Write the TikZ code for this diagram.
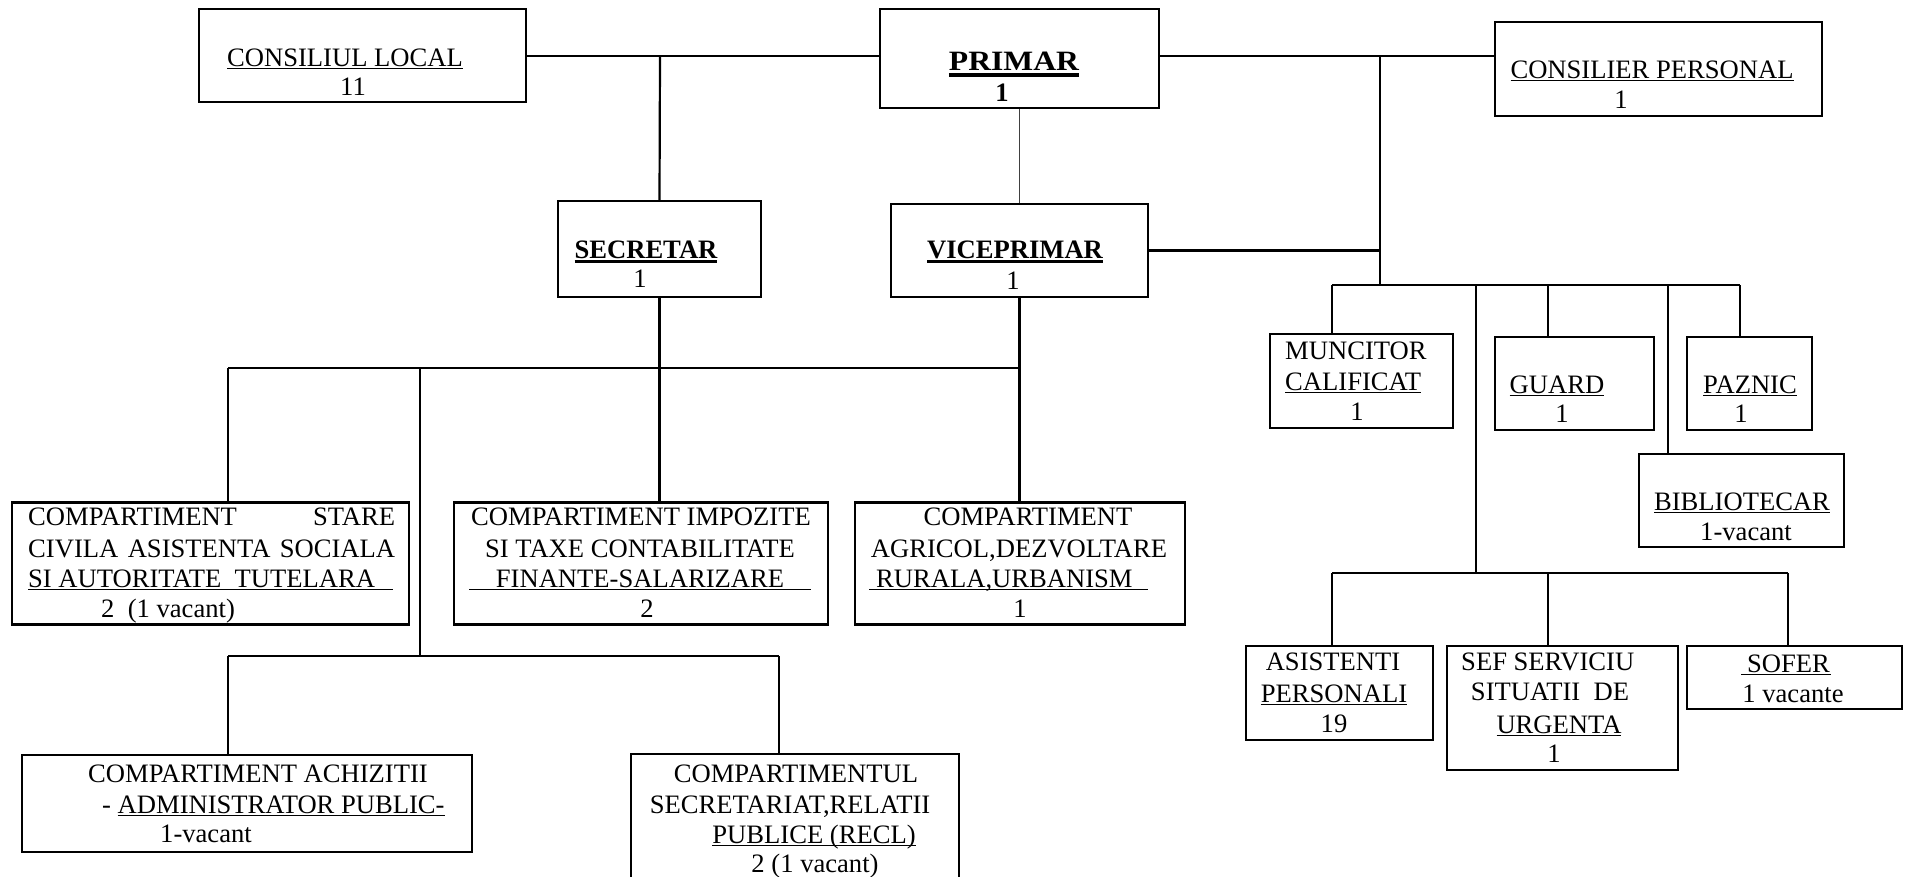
\documentclass[tikz,border=0pt]{standalone}
\usepackage{graphicx}
\usepackage{fontspec}
\setmainfont{Liberation Serif}
\newsavebox\ulbx
\newcommand\myul[1]{\sbox\ulbx{#1}\rlap{\rule[-3.2pt]{\wd\ulbx}{1.7pt}}\usebox\ulbx}
\newcommand\myulb[1]{\sbox\ulbx{#1}\rlap{\rule[-5pt]{\wd\ulbx}{2.8pt}}\usebox\ulbx}
\newcommand\myulB[1]{\sbox\ulbx{#1}\rlap{\rule[-7pt]{\wd\ulbx}{3.6pt}}\usebox\ulbx}
\newcommand\myulw[2]{\rlap{\rule[-3.2pt]{#1}{1.7pt}}\makebox[#1]{#2}}
\newcommand\myulwl[2]{\rlap{\rule[-3.2pt]{#1}{1.7pt}}\makebox[#1][l]{#2}}
\newcommand\fs{\fontsize{26.6}{31}\selectfont}
\begin{document}
\begin{tikzpicture}[x=1pt,y=-1pt,
  box/.style={draw, line width=2.5pt, inner sep=0pt},
  conn/.style={line width=2.2pt},
  thinconn/.style={line width=1.3pt, black!75},
  tx/.style={inner sep=0pt, anchor=base, font=\fs},
  txl/.style={tx, anchor=base west},
  txb/.style={tx, font=\fs\bfseries}]
\useasboundingbox (0,0) rectangle (1909,876);
\clip (0,0) rectangle (1909,876);

% ---------- boxes ----------
\node[box, minimum width=327pt, minimum height=93pt]  (CL) at (362.5,55.5) {};
\node[box, minimum width=279pt, minimum height=99pt]  (PR) at (1019.5,58.5) {};
\node[box, minimum width=327pt, minimum height=94pt]  (CP) at (1658.5,69) {};
\node[box, minimum width=203pt, minimum height=96pt]  (SE) at (659.5,249) {};
\node[box, minimum width=257pt, minimum height=93pt]  (VP) at (1019.5,250.5) {};
\node[box, minimum width=183pt, minimum height=94pt]  (MU) at (1361.5,381) {};
\node[box, minimum width=159pt, minimum height=93pt]  (GU) at (1574.5,383.5) {};
\node[box, minimum width=125pt, minimum height=93pt]  (PA) at (1749.5,383.5) {};
\node[box, minimum width=205pt, minimum height=93pt]  (BI) at (1741.5,500.5) {};
\node[box, minimum width=187pt, minimum height=94pt]  (AS) at (1339.5,693) {};
\node[box, minimum width=231pt, minimum height=124pt] (SF) at (1562.5,708) {};
\node[box, minimum width=215pt, minimum height=63pt]  (SO) at (1794.5,677.5) {};
\node[box, minimum width=397pt, minimum height=122pt] (B1) at (210.5,563.5) {};
\node[box, minimum width=374pt, minimum height=122pt] (B2) at (641,563.5) {};
\node[box, minimum width=330pt, minimum height=122pt] (B3) at (1020,563.5) {};
\node[box, minimum width=450pt, minimum height=97pt]  (AC) at (247,803.5) {};
\node[box, minimum width=328pt, minimum height=130pt] (RE) at (795,819) {};

% ---------- junction coordinates ----------
\coordinate (j1) at (660,56);
\coordinate (jt) at (1380,56);
\coordinate (jb) at (1380,285);
\coordinate (bA) at (1332,285);
\coordinate (bL) at (1476,285);
\coordinate (bG) at (1548,285);
\coordinate (bB) at (1668,285);
\coordinate (bP) at (1740,285);
\coordinate (dA) at (1332,573);
\coordinate (dF) at (1548,573);
\coordinate (dS) at (1788,573);
\coordinate (mL) at (228,368);
\coordinate (mM) at (420,368);
\coordinate (mR) at (1019.5,368);
\coordinate (nL) at (228,656);
\coordinate (nM) at (420,656);
\coordinate (nR) at (779,656);

% ---------- connectors ----------
\draw[conn] (CL.east |- j1) -- (PR.west |- j1);
\draw[conn] (j1) -- (SE.north);
\draw[thinconn] (PR.south) -- (VP.north);
\draw[conn] (PR.east |- jt) -- (CP.west |- jt);
\draw[conn] (jt) -- (jb);
\draw[conn] (VP.east) -- (VP.east -| jt);
\draw[conn] (bA) -- (bP);
\draw[conn] (bA) -- (bA |- MU.north);
\draw[conn] (bG) -- (bG |- GU.north);
\draw[conn] (bB) -- (bB |- BI.north);
\draw[conn] (bP) -- (bP |- PA.north);
\draw[conn] (bL) -- (bL |- dA);
\draw[conn] (dA) -- (dS);
\draw[conn] (dA) -- (dA |- AS.north);
\draw[conn] (dF) -- (dF |- SF.north);
\draw[conn] (dS) -- (dS |- SO.north);
\draw[conn] (SE.south) -- (SE.south |- B2.north);
\draw[conn] (VP.south) -- (VP.south |- B3.north);
\draw[conn] (mL) -- (mR);
\draw[conn] (mL) -- (mL |- B1.north);
\draw[conn] (mM) -- (nM);
\draw[conn] (nL) -- (nR);
\draw[conn] (nL) -- (nL |- AC.north);
\draw[conn] (nR) -- (nR |- RE.north);

% ---------- texts ----------
\node[tx] (tCL1) at (345,66) {\myul{CONSILIUL LOCAL}};
\node[tx] (tCL2) at (353,95) {11};
\node[tx, font=\fontsize{28}{32}\selectfont\bfseries] (tPR1) at (1014,70) {\scalebox{1.13}[1]{\myulB{PRIMAR}}};
\node[txb] (tPR2) at (1002,101) {1};
\node[tx] (tCP1) at (1652,78) {\myul{CONSILIER PERSONAL}};
\node[tx] (tCP2) at (1621,108) {1};
\node[txb] (tSE1) at (646,258) {\myulb{SECRETAR}};
\node[tx] (tSE2) at (640,287) {1};
\node[txb] (tVP1) at (1015,258) {\myulb{VICEPRIMAR}};
\node[tx] (tVP2) at (1013,289) {1};

\node[txl] (tMU1) at (1285,359) {MUNCITOR};
\node[txl] (tMU2) at (1285,390) {\myul{CALIFICAT}};
\node[tx] (tMU3) at (1357,420) {1};
\node[tx] (tGU1) at (1557,393) {\myul{GUARD}};
\node[tx] (tGU2) at (1562,422) {1};
\node[tx] (tPA1) at (1750,393) {\myul{PAZNIC}};
\node[tx] (tPA2) at (1741,422) {1};
\node[tx] (tBI1) at (1742,510) {\myul{BIBLIOTECAR}};
\node[tx] (tBI2) at (1746,540) {1-vacant};

\node[tx] (tAS1) at (1333,670) {ASISTENTI};
\node[tx] (tAS2) at (1334,702) {\myul{PERSONALI}};
\node[tx] (tAS3) at (1334,732) {19};
\node[txl] (tSF1) at (1461,670) {SEF SERVICIU};
\node[tx] (tSF2) at (1550,700) {SITUATII\ \ DE};
\node[tx] (tSF3) at (1559,733) {\myul{URGENTA}};
\node[tx] (tSF4) at (1554,762) {1};
\node[tx] (tSO1) at (1786,672) {\myulw{90pt}{\hspace{5pt}SOFER}};
\node[tx] (tSO2) at (1793,702) {1 vacante};

\node[txl] (tB11) at (28,525) {\makebox[367pt][s]{COMPARTIMENT\hfill STARE}};
\node[txl] (tB12) at (28,557) {\makebox[367pt][s]{CIVILA ASISTENTA SOCIALA}};
\node[txl] (tB13) at (28,587) {\myulwl{365pt}{SI AUTORITATE\ \ TUTELARA}};
\node[txl] (tB14) at (101,617) {2\ \ (1 vacant)};

\node[tx] (tB21) at (641,525) {COMPARTIMENT IMPOZITE};
\node[tx] (tB22) at (640,557) {SI TAXE CONTABILITATE};
\node[tx] (tB23) at (640,587) {\myulw{342pt}{FINANTE-SALARIZARE}};
\node[tx] (tB24) at (647,617) {2};

\node[tx] (tB31) at (1028,525) {COMPARTIMENT};
\node[tx] (tB32) at (1019,557) {AGRICOL,DEZVOLTARE};
\node[txl] (tB33) at (869,587) {\myulwl{279pt}{\hspace{7pt}RURALA,URBANISM}};
\node[tx] (tB34) at (1020,617) {1};

\node[tx] (tAC1) at (258,782) {COMPARTIMENT ACHIZITII};
\node[txl] (tAC2) at (102,813) {- \myul{ADMINISTRATOR PUBLIC-}};
\node[tx] (tAC3) at (206,842) {1-vacant};

\node[tx] (tRE1) at (796,782) {COMPARTIMENTUL};
\node[tx] (tRE2) at (790,813) {SECRETARIAT,RELATII};
\node[tx] (tRE3) at (814,843) {\myul{PUBLICE (RECL)}};
\node[tx] (tRE4) at (815,872) {2 (1 vacant)};
\end{tikzpicture}
\end{document}
